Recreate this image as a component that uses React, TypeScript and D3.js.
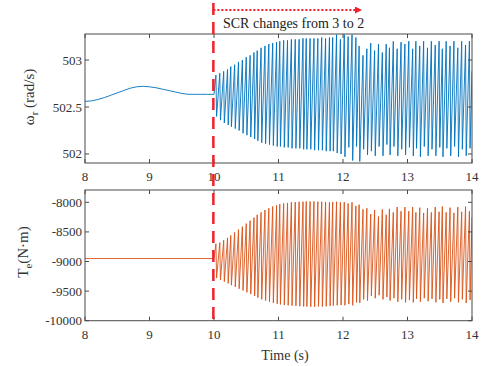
import React from 'react';
import * as d3 from 'd3';

const X_TICKS = [8, 9, 10, 11, 12, 13, 14];
const W_TICKS = [502, 502.5, 503];
const TE_TICKS = [-8000, -8500, -9000, -9500, -10000];

// slow wave of rotor speed before the SCR change
const PRE_T = [8.0, 8.1, 8.2, 8.3, 8.4, 8.5, 8.6, 8.7, 8.8, 8.9, 9.0, 9.1, 9.2, 9.3, 9.4, 9.5, 9.6, 9.7, 9.8, 9.9, 10.0];
const PRE_W = [502.56, 502.565, 502.58, 502.6, 502.625, 502.65, 502.675, 502.7, 502.715, 502.72, 502.715, 502.705, 502.69, 502.675, 502.66, 502.645, 502.635, 502.635, 502.635, 502.635, 502.635];
const TE_FLAT = -8950;

// oscillation cycles after the SCR change (time of each peak)
const CYCLE_T = [10.03, 10.09, 10.15, 10.21, 10.26, 10.32, 10.38, 10.44, 10.5, 10.56, 10.62, 10.67, 10.73, 10.79, 10.85, 10.91, 10.97, 11.02, 11.08, 11.14, 11.2, 11.26, 11.32, 11.38, 11.43, 11.49, 11.55, 11.61, 11.67, 11.73, 11.79, 11.84, 11.9, 11.96, 12.02, 12.08, 12.14, 12.2, 12.25, 12.31, 12.37, 12.43, 12.49, 12.55, 12.61, 12.67, 12.72, 12.78, 12.84, 12.9, 12.96, 13.02, 13.08, 13.13, 13.19, 13.25, 13.31, 13.37, 13.43, 13.49, 13.54, 13.6, 13.66, 13.72, 13.78, 13.84, 13.9, 13.96];
const W_PEAK = [502.84, 502.86, 502.88, 502.9, 502.93, 502.95, 502.98, 503.0, 503.03, 503.05, 503.08, 503.1, 503.13, 503.15, 503.17, 503.18, 503.19, 503.2, 503.21, 503.21, 503.22, 503.22, 503.22, 503.23, 503.23, 503.23, 503.23, 503.23, 503.24, 503.23, 503.24, 503.24, 503.27, 503.22, 503.27, 503.25, 503.27, 503.24, 503.15, 503.05, 503.12, 503.18, 503.1, 503.17, 503.08, 503.17, 503.13, 503.2, 503.12, 503.19, 503.17, 503.2, 503.12, 503.2, 503.15, 503.2, 503.13, 503.2, 503.16, 503.2, 503.12, 503.2, 503.15, 503.2, 503.13, 503.2, 503.16, 503.2];
const W_TROUGH = [502.4, 502.36, 502.33, 502.31, 502.29, 502.27, 502.25, 502.22, 502.2, 502.18, 502.16, 502.14, 502.12, 502.11, 502.1, 502.09, 502.08, 502.08, 502.07, 502.07, 502.06, 502.06, 502.06, 502.05, 502.05, 502.05, 502.04, 502.04, 502.04, 502.03, 502.03, 502.03, 502.01, 502.0, 501.97, 502.07, 501.93, 502.08, 501.92, 502.05, 501.99, 502.03, 501.98, 502.08, 501.98, 502.1, 501.99, 502.08, 501.98, 502.05, 501.99, 502.07, 501.98, 502.06, 501.97, 502.08, 501.98, 502.05, 501.98, 502.07, 501.97, 502.06, 501.98, 502.08, 501.97, 502.05, 501.98, 502.06];
const TE_PEAK = [-8700, -8680, -8640, -8600, -8560, -8510, -8460, -8410, -8360, -8310, -8260, -8210, -8170, -8130, -8100, -8070, -8050, -8030, -8020, -8010, -8000, -7995, -7990, -7990, -7985, -7985, -7985, -7990, -7990, -7995, -8000, -7995, -7990, -8000, -7995, -8020, -8000, -8060, -8040, -8120, -8100, -8200, -8130, -8240, -8120, -8210, -8110, -8170, -8080, -8150, -8080, -8150, -8080, -8170, -8090, -8180, -8100, -8170, -8080, -8160, -8070, -8170, -8090, -8180, -8080, -8160, -8070, -8150];
const TE_TROUGH = [-9280, -9310, -9340, -9370, -9400, -9430, -9460, -9490, -9520, -9550, -9580, -9610, -9640, -9660, -9680, -9700, -9715, -9725, -9735, -9740, -9745, -9750, -9755, -9760, -9760, -9765, -9765, -9760, -9760, -9755, -9750, -9745, -9740, -9735, -9740, -9720, -9740, -9690, -9700, -9640, -9660, -9580, -9620, -9570, -9640, -9600, -9660, -9620, -9680, -9640, -9690, -9650, -9690, -9630, -9680, -9620, -9670, -9630, -9690, -9640, -9700, -9630, -9680, -9620, -9690, -9640, -9700, -9650];
const END_T = 14;
const W_END = 502.88;
const TE_END = -8250;
const SCR_T = 9.99;
const FALL_LAG = 0.01;

const BLUE = '#0072BD';
const ORANGE = '#D95319';
const RED = '#F0212B';
const AX = '#4a4a4a';
const FONT = 'Times New Roman, Liberation Serif, serif';

const L = 85, R = 472;
const TOP = { y0: 34, y1: 163 };
const BOT = { y0: 190, y1: 320.7 };

const x = d3.scaleLinear().domain([8, 14]).range([L, R]);
const yW = d3.scaleLinear().domain([501.904, 503.277]).range([TOP.y1, TOP.y0]);
const yT = d3.scaleLinear().domain([-10000, -7792]).range([BOT.y1, BOT.y0]);

function buildSeries(preT: number[], preV: number[], peaks: number[], troughs: number[], endV: number): [number, number][] {
  const pts: [number, number][] = preT.map((t, i) => [t, preV[i]]);
  CYCLE_T.forEach((t, i) => {
    pts.push([t, peaks[i]]);
    pts.push([t + FALL_LAG, troughs[i]]);
  });
  pts.push([END_T, endV]);
  return pts;
}

const wData = buildSeries(PRE_T, PRE_W, W_PEAK, W_TROUGH, W_END);
const teData = buildSeries([8, 10], [TE_FLAT, TE_FLAT], TE_PEAK, TE_TROUGH, TE_END);

function Axes({ y, y0, y1, ticks, fmt, clipId, data, color }: any) {
  const line = d3.line<[number, number]>().x(d => x(d[0])).y(d => y(d[1]));
  return (
    <g>
      <defs>
        <clipPath id={clipId}>
          <rect x={L} y={y0} width={R - L} height={y1 - y0} />
        </clipPath>
      </defs>
      <path d={line(data) || ''} fill="none" stroke={color} strokeWidth={0.9} clipPath={`url(#${clipId})`} />
      <rect x={L} y={y0} width={R - L} height={y1 - y0} fill="none" stroke={AX} strokeWidth={1} />
      {X_TICKS.map(t => (
        <g key={'x' + t}>
          <line x1={x(t)} x2={x(t)} y1={y1} y2={y1 - 4} stroke={AX} />
          <line x1={x(t)} x2={x(t)} y1={y0} y2={y0 + 4} stroke={AX} />
          <text x={x(t)} y={y1 + 18} textAnchor="middle" fontSize={13} fill="#333" style={{ fontFamily: FONT }}>{t}</text>
        </g>
      ))}
      {ticks.map((t: number) => (
        <g key={'y' + t}>
          <line x1={L} x2={L + 4} y1={y(t)} y2={y(t)} stroke={AX} />
          <line x1={R} x2={R - 4} y1={y(t)} y2={y(t)} stroke={AX} />
          <text x={L - 3} y={y(t) + 4.5} textAnchor="end" fontSize={13} fill="#333" style={{ fontFamily: FONT }}>{fmt(t)}</text>
        </g>
      ))}
    </g>
  );
}

export default function App() {
  return (
    <svg width={486} height={366} style={{ position: 'absolute', left: 0, top: 0, background: '#fff', fontFamily: FONT }}>
      <defs>
        <marker id="arr" viewBox="0 0 10 10" refX="0" refY="5" markerWidth="10" markerHeight="7" markerUnits="userSpaceOnUse" orient="auto">
          <path d="M0,0 L10,5 L0,10 Z" fill={RED} />
        </marker>
      </defs>
      <Axes y={yW} y0={TOP.y0} y1={TOP.y1} ticks={W_TICKS} fmt={(t: number) => String(t)} clipId="c1" data={wData} color={BLUE} />
      <Axes y={yT} y0={BOT.y0} y1={BOT.y1} ticks={TE_TICKS} fmt={(t: number) => String(t)} clipId="c2" data={teData} color={ORANGE} />
      <text transform={`translate(34,97) rotate(-90)`} textAnchor="middle" fontSize={15} fill="#333" style={{ fontFamily: FONT }}>
        ω<tspan dy={4} fontSize={11}>r</tspan><tspan dy={-4}> (rad/s)</tspan>
      </text>
      <text transform={`translate(28,252) rotate(-90)`} textAnchor="middle" fontSize={15} fill="#333" style={{ fontFamily: FONT }}>
        T<tspan dy={4} fontSize={11}>e</tspan><tspan dy={-4}>(N·m)</tspan>
      </text>
      <text x={285} y={360} textAnchor="middle" fontSize={14} fill="#333" style={{ fontFamily: FONT }}>Time (s)</text>
      <line x1={x(SCR_T)} x2={x(SCR_T)} y1={3} y2={320} stroke={RED} strokeWidth={2.5} strokeDasharray="12,7" />
      <line x1={x(SCR_T)} x2={355} y1={10} y2={10} stroke={RED} strokeWidth={1.8} strokeDasharray="2,2" markerEnd="url(#arr)" />
      <text x={223} y={28} fontSize={14} fill="#222" style={{ fontFamily: FONT }}>SCR changes from 3 to 2</text>
    </svg>
  );
}
